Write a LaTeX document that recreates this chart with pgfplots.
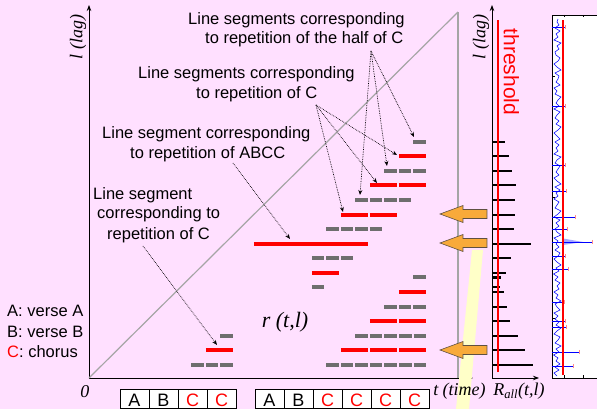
\documentclass[border=0pt]{standalone}
\usepackage{pgfplots}
\pgfplotsset{compat=1.18}
\usepackage{fontspec}
\setmainfont{Liberation Sans}
\newfontfamily\tms{Liberation Serif}
\usetikzlibrary{arrows.meta}
\definecolor{bgpink}{RGB}{255,224,255}
\definecolor{segGray}{RGB}{110,110,110}
\definecolor{diagGray}{RGB}{165,165,165}
\definecolor{arrOrange}{RGB}{248,170,58}
\definecolor{arrEdge}{RGB}{95,80,65}
\definecolor{bandYellow}{RGB}{255,255,200}
\definecolor{spikePink}{RGB}{255,140,140}
\newcommand{\sfn}{\fontsize{16.5bp}{20bp}\selectfont}
\newcommand{\tmi}{\tms\itshape\fontsize{18bp}{20bp}\selectfont}
\begin{document}
\begin{tikzpicture}
\useasboundingbox (-89bp,-31bp) rectangle (508bp,378bp);
\clip (-89bp,-31bp) rectangle (508bp,378bp);
\fill[bgpink] (-89bp,-31bp) rectangle (508bp,378bp);

% ---------------- main r(t,l) plane ----------------
\begin{axis}[
  at={(0,0)}, anchor=south west,
  x=1bp, y=1bp, xmin=0, xmax=384, ymin=0, ymax=373,
  enlargelimits=false, clip=false,
  axis lines=left,
  axis line style={line width=0.8bp, -{Stealth[length=6bp,width=4.5bp]}},
  xtick=\empty, ytick=\empty,
  unbounded coords=jump,
]
% pale band
\fill[bandYellow] (axis cs:383,128) -- (axis cs:394,128) -- (axis cs:380,-31) -- (axis cs:367,-31) -- cycle;

\addplot[diagGray, line width=1.2bp] coordinates {(0,0)(369,366)};
\addplot[diagGray, line width=1.6bp] coordinates {(369,0)(369,366)};

% half-of-C repetitions (gray)
\addplot[segGray, line width=4bp, dash pattern=on 12.5bp off 2bp] coordinates {
(102.5,13)(144,13) (nan,nan) (237.5,13)(337,13) (nan,nan)
(131.5,42)(144,42) (nan,nan) (266.5,42)(337,42) (nan,nan)
(295.5,71)(337,71) (nan,nan)
(223,91)(235.5,91) (nan,nan)
(324.5,100.5)(337,100.5) (nan,nan)
(223,120)(264.5,120) (nan,nan)
(237.5,149)(293.5,149) (nan,nan)
(266.5,178)(322.5,178) (nan,nan)
(295.5,207)(337,207) (nan,nan)
(324.5,236)(337,236)
};
% C repetitions (red)
\addplot[red, line width=4bp, dash pattern=on 27bp off 2bp] coordinates {
(117,28)(144,28) (nan,nan) (252,28)(337,28) (nan,nan)
(281,57)(337,57) (nan,nan)
(310,86)(337,86) (nan,nan)
(223,105)(250,105) (nan,nan)
(252,163)(308,163) (nan,nan)
(281,193)(337,193) (nan,nan)
(310,222)(337,222)
};
% ABCC repetition
\addplot[red, line width=4bp] coordinates {(165,134)(279,134)};

% orange arrows
\filldraw[fill=arrOrange, draw=arrEdge, line width=0.6bp] (axis cs:351,164) -- (axis cs:374,172.5) -- (axis cs:374,168.5) -- (axis cs:398,168.5) -- (axis cs:398,159.5) -- (axis cs:374,159.5) -- (axis cs:374,155.5) -- cycle;
\filldraw[fill=arrOrange, draw=arrEdge, line width=0.6bp] (axis cs:351,135) -- (axis cs:374,143.5) -- (axis cs:374,139.5) -- (axis cs:398,139.5) -- (axis cs:398,130.5) -- (axis cs:374,130.5) -- (axis cs:374,126.5) -- cycle;
\filldraw[fill=arrOrange, draw=arrEdge, line width=0.6bp] (axis cs:351,28) -- (axis cs:374,36.5) -- (axis cs:374,32.5) -- (axis cs:398,32.5) -- (axis cs:398,23.5) -- (axis cs:374,23.5) -- (axis cs:374,19.5) -- cycle;

% annotations
\begin{scope}[every node/.style={anchor=base west, inner sep=0pt, font=\sfn}]
\node at (axis cs:99,354) {Line segments corresponding};
\node at (axis cs:116,335) {to repetition of the half of C};
\node at (axis cs:49,300) {Line segments corresponding};
\node at (axis cs:107,280) {to repetition of C};
\node at (axis cs:13,240) {Line segment corresponding};
\node at (axis cs:41,220) {to repetition of ABCC};
\node at (axis cs:4,179) {Line segment};
\node at (axis cs:8,160) {corresponding to};
\node at (axis cs:18,139) {repetition of C};
\node at (axis cs:-82,62) {A: verse A};
\node at (axis cs:-82,41) {B: verse B};
\node at (axis cs:-82,21) {\textcolor{red}{C}: chorus};
\end{scope}

\begin{scope}[densely dotted, line width=0.7bp, -{Stealth[length=5bp,width=4bp]}]
\draw (axis cs:54,132) -- (axis cs:128,33);
\draw (axis cs:144,215) -- (axis cs:201,139);
\draw (axis cs:227,273) -- (axis cs:308,223);
\draw (axis cs:227,273) -- (axis cs:288,195);
\draw (axis cs:227,273) -- (axis cs:254,166);
\draw (axis cs:282,327) -- (axis cs:325,241);
\draw (axis cs:282,327) -- (axis cs:298,212);
\draw (axis cs:282,327) -- (axis cs:271,183);
\end{scope}

\node[font=\tms\itshape\fontsize{22bp}{24bp}\selectfont] at (axis cs:196,56) {r (t,l)};
\node[font=\tmi] at (axis cs:-4,-14) {0};
\node[font=\tmi] at (axis cs:370.5,-13) {t (time)};
\node[font=\tmi, rotate=90] at (axis cs:-11,341) {l (lag)};

% song structure boxes
\begin{scope}[line width=0.8bp]
\draw[fill=white] (axis cs:31,-11) rectangle (axis cs:60,-30.5);
\draw[fill=white] (axis cs:60,-11) rectangle (axis cs:89,-30.5);
\draw[fill=white] (axis cs:89,-11) rectangle (axis cs:118,-30.5);
\draw[fill=white] (axis cs:118,-11) rectangle (axis cs:147,-30.5);
\draw[fill=white] (axis cs:166,-11) rectangle (axis cs:195,-30.5);
\draw[fill=white] (axis cs:195,-11) rectangle (axis cs:224,-30.5);
\draw[fill=white] (axis cs:224,-11) rectangle (axis cs:253,-30.5);
\draw[fill=white] (axis cs:253,-11) rectangle (axis cs:282,-30.5);
\draw[fill=white] (axis cs:282,-11) rectangle (axis cs:311,-30.5);
\draw[fill=white] (axis cs:311,-11) rectangle (axis cs:340,-30.5);
\end{scope}
\begin{scope}[every node/.style={anchor=base, inner sep=0pt, font=\fontsize{18bp}{20bp}\selectfont}]
\node at (axis cs:45.5,-28) {A};
\node at (axis cs:74.5,-28) {B};
\node[red] at (axis cs:103.5,-28) {C};
\node[red] at (axis cs:132.5,-28) {C};
\node at (axis cs:180.5,-28) {A};
\node at (axis cs:209.5,-28) {B};
\node[red] at (axis cs:238.5,-28) {C};
\node[red] at (axis cs:267.5,-28) {C};
\node[red] at (axis cs:296.5,-28) {C};
\node[red] at (axis cs:325.5,-28) {C};
\end{scope}
\end{axis}

% ---------------- R_all(t,l) ----------------
\begin{axis}[
  at={(403bp,0)}, anchor=south west,
  x=1bp, y=1bp, xmin=0, xmax=47, ymin=0, ymax=373,
  enlargelimits=false, clip=false,
  axis lines=left,
  axis line style={line width=0.8bp, -{Stealth[length=6bp,width=4.5bp]}},
  xtick=\empty, ytick=\empty,
]
\addplot[xcomb, black, line width=2.5bp, no marks] coordinates {
(41,13)(33,28)(26,42)(18,57)(15,71)(12,86)(8,91)(9,100.5)(14,105)
(19,120)(39,134)(22,149)(23,163)(23,178)(24,193)(20,207)(17,222)(13,236)
};
\addplot[red, line width=2.2bp] coordinates {(6,6)(6,358)};
\node[rotate=-90, red, font=\fontsize{21bp}{24bp}\selectfont] at (axis cs:19.5,306) {threshold};
\node[font=\tmi, rotate=90] at (axis cs:-11,341) {l (lag)};
\node[font=\tmi] at (axis cs:27,-13) {R\textsubscript{all}(t,l)};
\end{axis}

% ---------------- measured R_all panel ----------------
\begin{axis}[
  at={(463bp,0)}, anchor=south west,
  x=1bp, y=1bp, xmin=0, xmax=60, ymin=0, ymax=363,
  enlargelimits=false,
  axis background/.style={fill=white},
  axis line style={line width=0.8bp},
  xtick={12,31}, ytick={60,181,302},
  xticklabel=\empty, yticklabel=\empty,
  tick align=inside, major tick length=2.5bp,
  tick style={black, line width=0.4bp},
]
\addplot[blue, line width=0.55bp] coordinates {
(5,2)(2,5)(7,8)(3,11)(8,14)(4,17)(6,20)(1.5,23)(7,26)(4,29)(9,32)(3,35)
(6,38)(8,41)(2,44)(5,47)(9,50)(4,53)(7,56)(3,59)(6,62)(2,65)(8,68)(5,71)
(3,74)(9,77)(4,80)(6,83)(2,86)(7,89)(5,92)(8,95)(3,98)(6,101)(1.5,104)(7,107)
(4,110)(9,113)(5,116)(2,119)(6,122)(8,125)(3,128)(7,131)(4,134)(6,137)(2,140)(9,143)
(5,146)(3,149)(7,152)(4,155)(8,158)(2,161)(6,164)(9,167)(3,170)(5,173)(7,176)(2,179)
(6,182)(4,185)(8,188)(3,191)(9,194)(5,197)(2,200)(7,203)(4,206)(6,209)(8,212)(3,215)
(5,218)(9,221)(2,224)(6,227)(4,230)(7,233)(3,236)(8,239)(5,242)(2,245)(6,248)(9,251)
(4,254)(7,257)(3,260)(5,263)(8,266)(2,269)(7,272)(4,275)(6,278)(9,281)(3,284)(5,287)
(2,290)(8,293)(4,296)(6,299)(7,302)(3,305)(9,308)(5,311)(2,314)(6,317)(8,320)(4,323)
(3,326)(7,329)(5,332)(9,335)(2,338)(6,341)(4,344)(8,347)(3,350)(7,353)(5,356)(6,359)
};
\addplot[fill=blue!35, draw=none] coordinates {(11,133)(31,136)(11,139.5)} -- cycle;
\addplot[xcomb, blue, line width=0.9bp, mark=|, mark size=2bp, mark options={spikePink, line width=0.8bp}] coordinates {
(13,351)(13,272)(13,213)(14,187)(23,161)(15,149)(40,136)(13,122)(16,109)(12,76)(13,57)(14,51)(27,26)(21,12)
};
\addplot[red, line width=2.2bp] coordinates {(11,3)(11,358)};
\end{axis}
\end{tikzpicture}
\end{document}
